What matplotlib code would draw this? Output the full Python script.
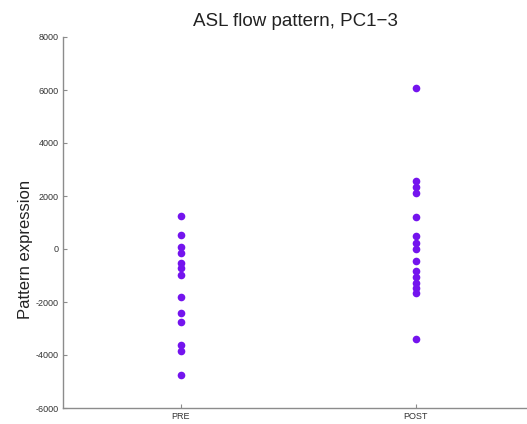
import numpy as np
import matplotlib
matplotlib.use('Agg')
import matplotlib.pyplot as plt

plt.rcParams['font.family'] = ['Liberation Sans', 'DejaVu Sans']
plt.rcParams['axes.unicode_minus'] = False

groups = ['PRE', 'POST']
pre_vals = [1250, 530, 70, -160, -520, -730, -980, -1820, -2430, -2740, -3620, -3840, -4750]
post_vals = [6060, 2580, 2350, 2100, 1220, 490, 240, 10, -470, -820, -1040, -1270, -1480, -1670, -3410]
y_ticks = [-6000, -4000, -2000, 0, 2000, 4000, 6000, 8000]

fig = plt.figure(figsize=(5.27, 4.24), dpi=100)
ax = fig.add_axes([63/527, 16/424, 470/527, 371/424])

ax.plot(np.full(len(pre_vals), 1), pre_vals, 'o', color='#7414ee', markersize=5.5, markeredgewidth=0)
ax.plot(np.full(len(post_vals), 2), post_vals, 'o', color='#7414ee', markersize=5.5, markeredgewidth=0)

ax.set_xlim(0.5, 2.5)
ax.set_ylim(-6000, 8000)
ax.set_xticks([1, 2])
ax.set_xticklabels(groups)
ax.set_yticks(y_ticks)

ax.spines['top'].set_visible(False)
ax.spines['right'].set_visible(False)
for s in ['left', 'bottom']:
    ax.spines[s].set_color('#8c8c8c')
    ax.spines[s].set_linewidth(1.0)
ax.tick_params(direction='in', length=3, color='#8c8c8c', labelsize=6.5, labelcolor='#333333', pad=3)

ax.set_ylabel('Pattern expression', fontsize=12, color='#222222')
ax.yaxis.set_label_coords(-0.064, 0.4286)
fig.text(295/527, 1 - 26/424, 'ASL flow pattern, PC1\u22123', ha='center', va='baseline',
         fontsize=13.5, color='#222222')

fig.savefig('out.png', dpi=100)
